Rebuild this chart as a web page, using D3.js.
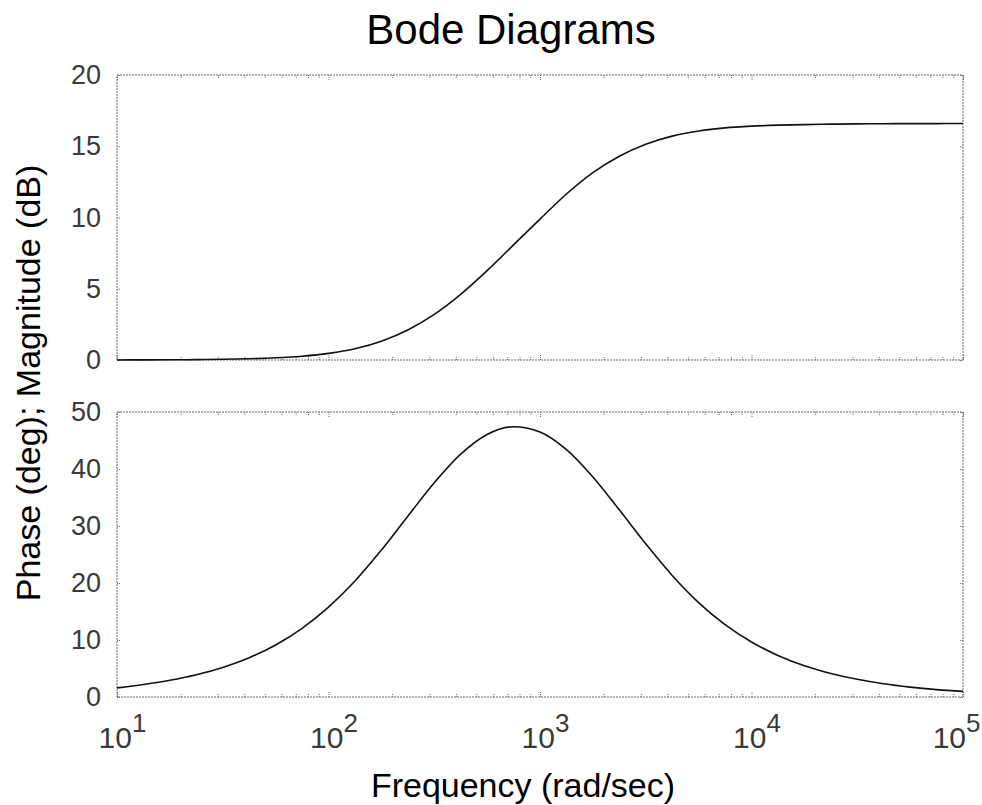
<!DOCTYPE html>
<head>
  <meta charset="utf-8">
  <title>Bode Diagrams</title>
  <script src="https://d3js.org/d3.v7.min.js"></script>
  <style>
    body { margin: 0; background: #fff; }
    #bode-svg { width: 982px; height: 805px; display: block; }
    text { font-family: "Liberation Sans", Arial, Helvetica, sans-serif; }
    .frame { fill: none; stroke: #6a6a6a; stroke-width: 1px; stroke-dasharray: 2,1; }
    .tick line { stroke: #6a6a6a; stroke-width: 1px; stroke-dasharray: 1,1; }
    .tick text { fill: #3a3a3a; }
    .curve { fill: none; stroke: #111; stroke-width: 1.6px; }
  </style>
</head>

<body>
  <svg id="bode-svg"></svg>
  <script>
    // frequencies (rad/sec), 8 per decade
    var freq = [10, 13.34, 17.78, 23.71, 31.62, 42.17, 56.23, 74.99,
                100, 133.4, 177.8, 237.1, 316.2, 421.7, 562.3, 749.9,
                1000, 1334, 1778, 2371, 3162, 4217, 5623, 7499,
                10000, 13335, 17783, 23714, 31623, 42170, 56234, 74989, 100000];

    // magnitude (dB)
    var magDb = [0.005, 0.009, 0.015, 0.027, 0.049, 0.087, 0.153, 0.268,
                 0.465, 0.79, 1.32, 2.10, 3.20, 4.61, 6.27, 8.08,
                 9.89, 11.65, 13.15, 14.30, 15.14, 15.71, 16.07, 16.29,
                 16.41, 16.48, 16.52, 16.55, 16.57, 16.58, 16.59, 16.59, 16.60];

    // phase (deg)
    var phaseDeg = [1.60, 2.20, 2.93, 3.90, 5.19, 6.89, 9.13, 12.05,
                    15.76, 20.35, 25.77, 31.71, 37.57, 42.60, 46.06, 47.42,
                    46.49, 43.39, 38.60, 32.83, 26.87, 21.33, 16.57, 12.69,
                    9.65, 7.29, 5.48, 4.13, 3.10, 2.32, 1.74, 1.30, 0.98];

    var decades = [10, 100, 1000, 10000, 100000];
    var magTicks = [0, 5, 10, 15, 20];
    var phaseTicks = [0, 10, 20, 30, 40, 50];

    var left = 117, right = 963;
    var magTop = 75, magBottom = 360;
    var phTop = 412, phBottom = 697;

    var svg = d3.select("#bode-svg");

    var x = d3.scaleLog().domain([10, 100000]).range([left, right]);
    var yMag = d3.scaleLinear().domain([0, 20]).range([magBottom, magTop]);
    var yPh = d3.scaleLinear().domain([0, 50]).range([phBottom, phTop]);

    // minor log ticks 2..9 in every decade
    var minor = [];
    decades.slice(0, 4).forEach(function(d) {
      for (var m = 2; m <= 9; m++) minor.push(d * m);
    });

    function panel(y, ticks, top, bottom) {
      var g = svg.append("g");

      g.append("rect").attr("class", "frame")
        .attr("x", left).attr("y", top)
        .attr("width", right - left).attr("height", bottom - top);

      // x ticks on top and bottom edges, pointing inward
      [[d3.axisBottom, bottom], [d3.axisTop, top]].forEach(function(a) {
        g.append("g").attr("transform", "translate(0," + a[1] + ")")
          .call(a[0](x).tickValues(decades).tickSize(-6).tickFormat(""))
          .call(function(s) { s.select(".domain").remove(); });
        g.append("g").attr("transform", "translate(0," + a[1] + ")")
          .call(a[0](x).tickValues(minor).tickSize(-3).tickFormat(""))
          .call(function(s) { s.select(".domain").remove(); });
      });

      // y ticks left (with labels) and right
      g.append("g").attr("transform", "translate(" + left + ",0)")
        .call(d3.axisLeft(y).tickValues(ticks).tickSize(-4).tickPadding(16))
        .call(function(s) {
          s.select(".domain").remove();
          s.selectAll("text").style("font-size", "27px");
        });
      g.append("g").attr("transform", "translate(" + right + ",0)")
        .call(d3.axisRight(y).tickValues(ticks).tickSize(-4).tickFormat(""))
        .call(function(s) { s.select(".domain").remove(); });
    }

    panel(yMag, magTicks, magTop, magBottom);
    panel(yPh, phaseTicks, phTop, phBottom);

    // decade labels 10^n under the bottom plot
    var xl = svg.append("g").attr("transform", "translate(0," + phBottom + ")")
      .call(d3.axisBottom(x).tickValues(decades).tickSize(0).tickFormat(""));
    xl.select(".domain").remove();
    xl.selectAll(".tick").append("text")
      .attr("y", 51)
      .attr("x", function(d, i) { return i === decades.length - 1 ? 17 : 5; })
      .attr("text-anchor", function(d, i) { return i === decades.length - 1 ? "end" : "middle"; })
      .style("font-size", "30px")
      .each(function(d) {
        var t = d3.select(this);
        t.append("tspan").text("10");
        t.append("tspan").attr("dy", -16).style("font-size", "26px")
          .text(Math.round(Math.log10(d)));
      });

    var lineMag = d3.line()
      .x(function(d, i) { return x(freq[i]); })
      .y(function(d) { return yMag(d); })
      .curve(d3.curveMonotoneX);
    var linePh = d3.line()
      .x(function(d, i) { return x(freq[i]); })
      .y(function(d) { return yPh(d); })
      .curve(d3.curveMonotoneX);

    svg.append("path").attr("class", "curve").attr("d", lineMag(magDb));
    svg.append("path").attr("class", "curve").attr("d", linePh(phaseDeg));

    // titles
    svg.append("text")
      .attr("x", 511).attr("y", 44)
      .attr("text-anchor", "middle")
      .style("font-size", "42px")
      .text("Bode Diagrams");

    svg.append("text")
      .attr("x", 523).attr("y", 797)
      .attr("text-anchor", "middle")
      .style("font-size", "34px")
      .text("Frequency (rad/sec)");

    svg.append("text")
      .attr("transform", "translate(40,383) rotate(-90)")
      .attr("text-anchor", "middle")
      .style("font-size", "34px")
      .text("Phase (deg); Magnitude (dB)");
  </script>
</body>
</html>
